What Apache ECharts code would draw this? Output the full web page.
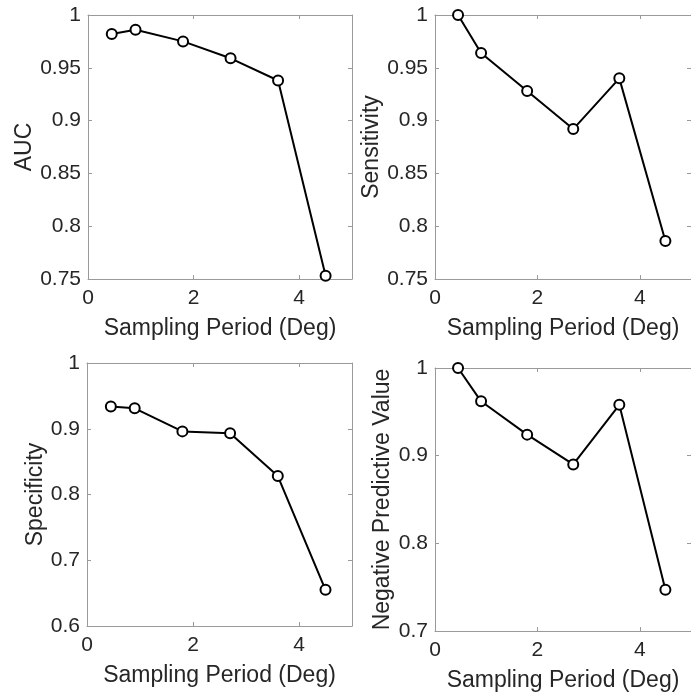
<!DOCTYPE html>
<html>
<head>
<meta charset="utf-8">
<script src="https://cdn.jsdelivr.net/npm/echarts@6/dist/echarts.min.js"></script>
<style>
html,body{margin:0;padding:0;background:#fff;}
#chart{width:691px;height:696px;}
</style>
</head>
<body>
<div id="chart"></div>
<script>
// Data
const samplingPeriod = [0.45, 0.9, 1.8, 2.7, 3.6, 4.5];
const auc = [0.982, 0.986, 0.975, 0.959, 0.938, 0.753];
const sensitivity = [1.0, 0.964, 0.928, 0.892, 0.940, 0.786];
const specificity = [0.934, 0.931, 0.896, 0.893, 0.828, 0.655];
const npv = [1.0, 0.962, 0.924, 0.890, 0.958, 0.747];
const xLabel = 'Sampling Period (Deg)';
const yLabels = ['AUC', 'Sensitivity', 'Specificity', 'Negative Predictive Value'];
const yRanges = [[0.75, 1, 0.05], [0.75, 1, 0.05], [0.6, 1, 0.1], [0.7, 1, 0.1]];
const seriesValues = [auc, sensitivity, specificity, npv];

const FONT = "'Liberation Sans', Arial, Helvetica, sans-serif";
const TEXT = '#262626';
const BOX = '#9a9a9a';

const panels = [
  {left: 88, top: 15, width: 264, height: 264, nameGap: 50},
  {left: 435, top: 15, width: 264, height: 264, nameGap: 51},
  {left: 87, top: 363, width: 265, height: 263, nameGap: 38},
  {left: 435, top: 368, width: 264, height: 263, nameGap: 41}
];

const grid = [], xAxis = [], yAxis = [], series = [];
panels.forEach((p, i) => {
  grid.push({left: p.left, top: p.top, width: p.width, height: p.height, containLabel: false});
  const [ymin, ymax, yint] = yRanges[i];
  // bottom x
  xAxis.push({
    type: 'value', gridIndex: i, min: 0, max: 5, interval: 2, position: 'bottom',
    name: xLabel, nameLocation: 'middle', nameGap: 38,
    nameTextStyle: {fontFamily: FONT, fontSize: 23, color: TEXT},
    axisLine: {show: true, onZero: false, lineStyle: {color: BOX, width: 1}},
    axisTick: {show: true, inside: true, length: 4, lineStyle: {color: BOX}},
    axisLabel: {show: true, showMaxLabel: false, margin: 9, fontFamily: FONT, fontSize: 21, color: TEXT},
    splitLine: {show: false}
  });
  // top x (mirror)
  xAxis.push({
    type: 'value', gridIndex: i, min: 0, max: 5, interval: 2, position: 'top',
    axisLine: {show: true, onZero: false, lineStyle: {color: BOX, width: 1}},
    axisTick: {show: true, inside: true, length: 4, lineStyle: {color: BOX}},
    axisLabel: {show: false}, splitLine: {show: false}
  });
  // left y
  yAxis.push({
    type: 'value', gridIndex: i, min: ymin, max: ymax, interval: yint, position: 'left',
    name: yLabels[i], nameLocation: 'middle', nameGap: p.nameGap, nameRotate: 90,
    nameTextStyle: {fontFamily: FONT, fontSize: 23, color: TEXT},
    axisLine: {show: true, onZero: false, lineStyle: {color: BOX, width: 1}},
    axisTick: {show: true, inside: true, length: 4, lineStyle: {color: BOX}},
    axisLabel: {show: true, margin: 7, fontFamily: FONT, fontSize: 21, color: TEXT,
      formatter: v => String(Math.round(v * 100) / 100)},
    splitLine: {show: false}
  });
  // right y (mirror)
  yAxis.push({
    type: 'value', gridIndex: i, min: ymin, max: ymax, interval: yint, position: 'right',
    axisLine: {show: true, onZero: false, lineStyle: {color: BOX, width: 1}},
    axisTick: {show: true, inside: true, length: 4, lineStyle: {color: BOX}},
    axisLabel: {show: false}, splitLine: {show: false}
  });
  series.push({
    type: 'line', xAxisIndex: 2 * i, yAxisIndex: 2 * i,
    data: samplingPeriod.map((x, k) => [x, seriesValues[i][k]]),
    clip: false,
    symbol: 'circle', symbolSize: 10, showAllSymbol: true,
    lineStyle: {color: '#000', width: 2},
    itemStyle: {color: '#fff', borderColor: '#000', borderWidth: 2},
    emphasis: {disabled: true},
    animation: false
  });
});

const chart = echarts.init(document.getElementById('chart'), null, {renderer: 'canvas'});
chart.setOption({
  backgroundColor: '#fff',
  animation: false,
  grid, xAxis, yAxis, series
});
</script>
</body>
</html>
